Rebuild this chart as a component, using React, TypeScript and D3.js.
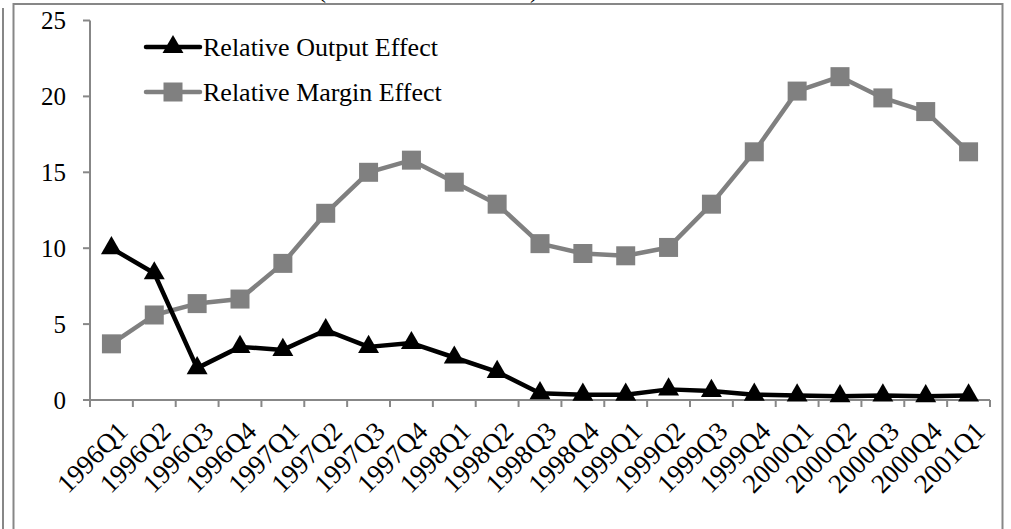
import React from "react";
import * as d3 from "d3";

const categories = ["1996Q1","1996Q2","1996Q3","1996Q4","1997Q1","1997Q2","1997Q3","1997Q4","1998Q1","1998Q2","1998Q3","1998Q4","1999Q1","1999Q2","1999Q3","1999Q4","2000Q1","2000Q2","2000Q3","2000Q4","2001Q1"];
const outputEffect = [10.0,8.35,2.1,3.5,3.3,4.6,3.5,3.75,2.8,1.85,0.45,0.35,0.35,0.7,0.6,0.35,0.3,0.25,0.3,0.25,0.3];
const marginEffect = [3.7,5.6,6.35,6.65,9.0,12.3,15.0,15.8,14.35,12.9,10.3,9.65,9.5,10.05,12.9,16.35,20.35,21.3,19.9,19.0,16.35];
const yTicks = [0,5,10,15,20,25];
const seriesNames = ["Relative Output Effect","Relative Margin Effect"];

const FONT = "'Liberation Serif', 'Times New Roman', serif";
const AXIS = "#878787";
const GRAY = "#808080";

export default function App() {
  const W = 1011, H = 529;
  const x0 = 90, x1 = 990, yTop = 20.5, yBot = 400;
  const x = d3.scaleBand<string>().domain(categories).range([x0, x1]);
  const cx = (c: string) => (x(c) as number) + x.bandwidth() / 2;
  const y = d3.scaleLinear().domain([0, 25]).range([yBot, yTop]);
  const line = d3.line<number>().x((_, i) => cx(categories[i])).y((d) => y(d));
  const tri = d3.symbol().type(d3.symbolTriangle).size(190);
  const sq = (px: number, py: number, s = 19) => (
    <rect x={px - s / 2} y={py - s / 2} width={s} height={s} fill={GRAY} />
  );

  return (
    <svg width={W} height={H} style={{ position: "absolute", left: 0, top: 0, background: "#fff" }} fontFamily={FONT}>
      {/* clipped title remnants */}
      <text x={318} y={-2} fontSize={24} fill="#000">(</text>
      <text x={530} y={-2} fontSize={24} fill="#000">)</text>
      {/* frame */}
      <line x1={3} y1={8} x2={3} y2={H} stroke={AXIS} strokeWidth={2} />
      <path d={`M13.5,${H}V4H1002.5V${H}`} fill="none" stroke={AXIS} strokeWidth={2} />
      {/* y axis */}
      <line x1={x0} y1={yTop} x2={x0} y2={yBot} stroke={AXIS} strokeWidth={2} />
      {yTicks.map((t) => (
        <g key={t}>
          <line x1={83} x2={x0} y1={y(t)} y2={y(t)} stroke={AXIS} strokeWidth={2} />
          <text x={66} y={y(t)} dy="0.34em" textAnchor="end" fontSize={25} fill="#000">{t}</text>
        </g>
      ))}
      {/* x axis */}
      <line x1={x0} y1={yBot} x2={x1} y2={yBot} stroke={AXIS} strokeWidth={2} />
      {categories.map((c, i) => (
        <line key={"t" + c} x1={x0 + i * x.step()} x2={x0 + i * x.step()} y1={yBot} y2={yBot + 7} stroke={AXIS} strokeWidth={2} />
      ))}
      <line x1={x1} x2={x1} y1={yBot} y2={yBot + 7} stroke={AXIS} strokeWidth={2} />
      {categories.map((c) => (
        <text key={"l" + c} transform={`translate(${cx(c) + 5},${yBot + 20}) rotate(-45)`} textAnchor="end" dy="0.68em" fontSize={27} fill="#000">{c}</text>
      ))}
      {/* margin series */}
      <path d={line(marginEffect) as string} fill="none" stroke={GRAY} strokeWidth={4.5} strokeLinejoin="round" />
      {marginEffect.map((v, i) => <g key={"m" + i}>{sq(cx(categories[i]), y(v))}</g>)}
      {/* output series */}
      <path d={line(outputEffect) as string} fill="none" stroke="#000" strokeWidth={4.5} strokeLinejoin="round" />
      {outputEffect.map((v, i) => (
        <path key={"o" + i} d={tri() as string} transform={`translate(${cx(categories[i])},${y(v)})`} fill="#000" />
      ))}
      {/* legend */}
      <line x1={146} x2={200} y1={47} y2={47} stroke="#000" strokeWidth={4.5} strokeLinecap="round" />
      <path d={tri() as string} transform="translate(173,47)" fill="#000" />
      <text x={203} y={47} dy="0.34em" fontSize={26} fill="#000">{seriesNames[0]}</text>
      <line x1={146} x2={200} y1={92} y2={92} stroke={GRAY} strokeWidth={4.5} strokeLinecap="round" />
      {sq(173, 92)}
      <text x={203} y={92} dy="0.34em" fontSize={26} fill="#000">{seriesNames[1]}</text>
    </svg>
  );
}
